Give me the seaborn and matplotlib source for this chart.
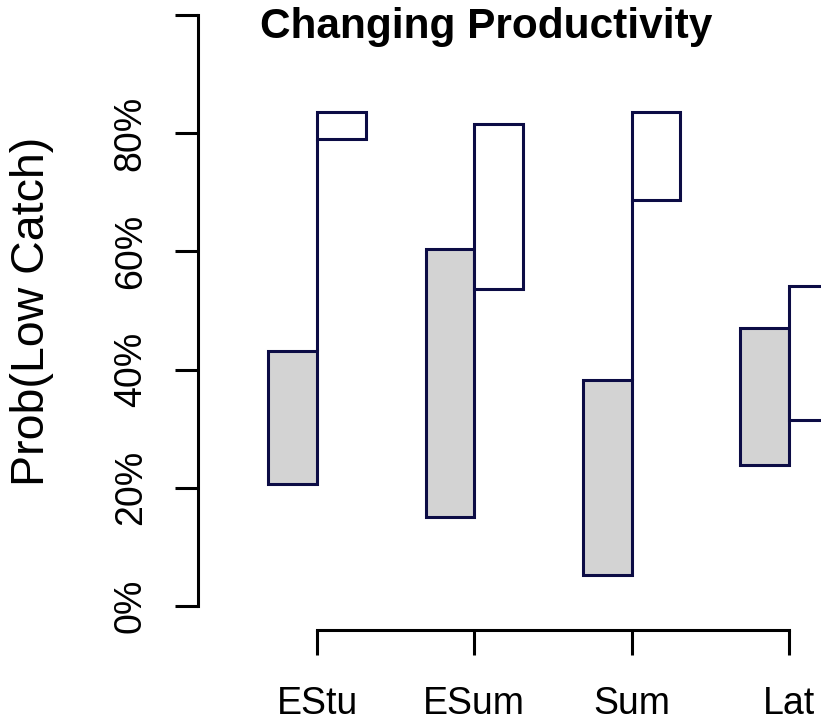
import matplotlib
matplotlib.use("Agg")
import matplotlib.pyplot as plt
import seaborn as sns
import pandas as pd

# Run timing groups and the ranges of low-catch probability (%)
groups = ["EStu", "ESum", "Sum", "Lat"]
current_low = [20.6, 15.1, 5.2, 23.9]
current_high = [43.1, 60.4, 38.2, 47.0]
changed_low = [79.0, 53.6, 68.7, 31.5]
changed_high = [83.6, 81.6, 83.6, 54.1]
y_ticks = [0, 20, 40, 60, 80, 100]
y_tick_labels = ["0%", "20%", "40%", "60%", "80%", ""]

sns.set_theme(style="ticks")
plt.rcParams["font.family"] = ["Liberation Sans", "DejaVu Sans"]
plt.rcParams["text.color"] = "black"

EDGE = "#0c0c45"
FILL = "#d3d3d3"
LW = 2.2

df = pd.DataFrame({
    "group": groups * 2,
    "scenario": ["current"] * len(groups) + ["changed"] * len(groups),
    "low": current_low + changed_low,
    "high": current_high + changed_high,
})
df["span"] = df["high"] - df["low"]

fig = plt.figure(figsize=(8.21, 7.21), dpi=100)
W, H = 821, 721
ax = fig.add_axes([198 / W, (H - 630) / H, 1 - 198 / W, 630 / H])

sns.barplot(data=df, x="group", y="span", hue="scenario",
            order=groups, hue_order=["current", "changed"],
            palette=[FILL, "white"], width=0.62, dodge=True,
            edgecolor=EDGE, linewidth=LW, saturation=1,
            legend=False, errorbar=None, ax=ax)

# shift each bar so it floats between its low and high values
bars = [p for p in ax.patches]
lows = current_low + changed_low
for patch, lo in zip(bars, lows):
    patch.set_y(lo)
    patch.set_joinstyle("miter")

# connector along the tick from the current range up to the changed range
xs = list(range(len(groups)))
for x, ch, cl in zip(xs, current_high, changed_low):
    if cl > ch:
        ax.vlines(x, ch, cl, color=EDGE, linewidth=LW, zorder=3)

ax.set_xlim(-0.7564, 3.2034)
ax.set_ylim(-4.06, 102.54)

ax.set_yticks(y_ticks)
ax.set_yticklabels(y_tick_labels, rotation=90, va="center", fontsize=27)
ax.set_xticks(xs)
ax.set_xticklabels(groups, fontsize=27)
ax.set_xlabel("")
ax.set_ylabel("")

for side in ["top", "right"]:
    ax.spines[side].set_visible(False)
ax.spines["left"].set_bounds(0, 100)
ax.spines["bottom"].set_bounds(0, 3)
for side in ["left", "bottom"]:
    ax.spines[side].set_linewidth(LW)
    ax.spines[side].set_color("black")
ax.tick_params(axis="y", length=16.5, width=LW, pad=19, colors="black",
               labelcolor="black")
ax.tick_params(axis="x", length=18, width=LW, pad=22, colors="black",
               labelcolor="black")
ax.patch.set_visible(False)

fig.text(486 / W, 1 - 27 / H, "Changing Productivity", ha="center", va="center",
         fontsize=30.5, fontweight="bold", color="black")
fig.text(32 / W, 1 - 311 / H, "Prob(Low Catch)", ha="center", va="center",
         rotation=90, fontsize=33.5, color="black")

fig.savefig("out.png", dpi=100)
